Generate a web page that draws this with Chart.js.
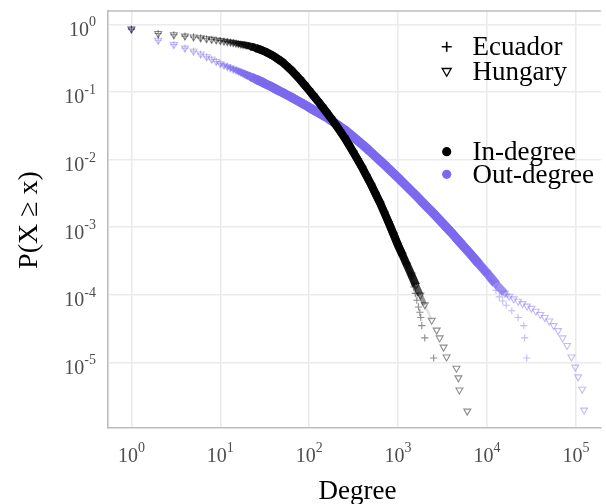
<!DOCTYPE html>
<html>
<head>
<meta charset="utf-8">
<script src="https://cdn.jsdelivr.net/npm/chart.js@4.4.1/dist/chart.umd.min.js"></script>
<style>
  html, body { margin: 0; padding: 0; background: #fff; }
  #wrap { width: 606px; height: 504px; }
</style>
</head>
<body>
<div id="wrap"><canvas id="degreeChart" width="606" height="504"></canvas></div>
<script>
// P(X >= x) against degree
const hungaryInDeg = [1, 2, 3, 4, 5, 6, 7, 8, 9, 10, 11, 12, 13, 14, 15, 16, 17, 18, 19, 20, 22, 25, 28, 32, 36, 40, 45, 50, 56, 63, 71, 79, 89, 100, 112, 126, 141, 158, 178, 200, 224, 251, 282, 316, 355, 398, 447, 501, 562, 631, 708, 794, 891, 1000, 1122, 1259, 1413, 1585, 1778, 1995, 2388, 2713, 2930, 3245, 3506, 4530, 4766, 4890, 6000];
const hungaryInP = [0.85, 0.73, 0.70, 0.67, 0.65, 0.63, 0.612, 0.598, 0.586, 0.575, 0.565, 0.555, 0.546, 0.536, 0.526, 0.518, 0.509, 0.502, 0.496, 0.49, 0.471, 0.448, 0.424, 0.395, 0.364, 0.337, 0.303, 0.276, 0.241, 0.209, 0.177, 0.152, 0.126, 0.105, 0.0875, 0.0724, 0.0598, 0.0492, 0.0398, 0.0322, 0.026, 0.0209, 0.0162, 0.0126, 0.00966, 0.00741, 0.00556, 0.00417, 0.00305, 0.00224, 0.00158, 0.00112, 0.000776, 0.000537, 0.000385, 0.000275, 0.000195, 0.000138, 0.000099, 0.000071, 0.000042, 0.00003, 0.000023, 0.0000168, 0.000012, 0.0000082, 0.0000059, 0.0000039, 0.0000019];

const ecuadorInDeg = [1, 2, 3, 4, 5, 6, 7, 8, 9, 10, 11, 12, 13, 14, 15, 16, 17, 18, 19, 20, 22, 25, 28, 32, 36, 40, 45, 50, 56, 63, 71, 79, 89, 100, 112, 126, 141, 158, 178, 200, 224, 251, 282, 316, 355, 398, 447, 501, 562, 631, 708, 794, 891, 1000, 1122, 1259, 1413, 1500, 1560, 1624, 1694, 1754, 1799, 1846, 1995, 2510];
const ecuadorInP = [0.85, 0.73, 0.70, 0.67, 0.65, 0.63, 0.612, 0.598, 0.586, 0.575, 0.565, 0.555, 0.546, 0.536, 0.526, 0.518, 0.509, 0.502, 0.496, 0.49, 0.471, 0.448, 0.424, 0.395, 0.364, 0.337, 0.303, 0.276, 0.241, 0.209, 0.177, 0.152, 0.126, 0.105, 0.0875, 0.0724, 0.0598, 0.0492, 0.0398, 0.0322, 0.026, 0.0209, 0.0162, 0.0126, 0.00966, 0.00741, 0.00556, 0.00417, 0.00305, 0.00224, 0.00158, 0.00112, 0.000776, 0.000537, 0.000385, 0.000275, 0.00019, 0.00013, 0.000105, 0.000083, 0.000066, 0.000055, 0.000046, 0.000035, 0.000023, 0.0000116];

const hungaryOutDeg = [1, 2, 3, 4, 5, 6, 7, 8, 9, 10, 11, 12, 13, 14, 15, 16, 17, 18, 19, 20, 22, 25, 28, 32, 36, 40, 45, 50, 56, 63, 71, 79, 89, 100, 112, 126, 141, 158, 178, 200, 224, 251, 282, 316, 355, 398, 447, 501, 562, 631, 708, 794, 891, 1000, 1259, 1585, 1995, 2512, 3162, 3981, 5012, 6310, 7943, 10000, 12590, 15850, 17780, 19950, 22390, 25120, 28180, 31620, 35480, 39810, 44670, 50120, 56230, 63100, 70790, 79430, 89130, 98300, 106000, 117600, 123600];
const hungaryOutP = [0.85, 0.58, 0.50, 0.445, 0.40, 0.363, 0.331, 0.305, 0.282, 0.261, 0.248, 0.237, 0.227, 0.218, 0.21, 0.203, 0.196, 0.189, 0.183, 0.178, 0.168, 0.155, 0.145, 0.132, 0.123, 0.1145, 0.105, 0.098, 0.0904, 0.0834, 0.0764, 0.0705, 0.0646, 0.0589, 0.0541, 0.0495, 0.0455, 0.0417, 0.0376, 0.0339, 0.0305, 0.0275, 0.0243, 0.0214, 0.0188, 0.0166, 0.0145, 0.0126, 0.011, 0.00955, 0.00828, 0.00716, 0.00621, 0.00537, 0.00398, 0.00295, 0.00216, 0.00158, 0.00115, 0.00083, 0.00059, 0.00042, 0.000295, 0.000209, 0.000145, 0.000105, 0.000095, 0.000087, 0.00008, 0.000074, 0.000068, 0.000063, 0.000057, 0.000051, 0.000046, 0.000041, 0.000035, 0.0000295, 0.000023, 0.0000178, 0.000012, 0.0000085, 0.0000061, 0.000004, 0.00000197];

const ecuadorOutDeg = [1, 2, 3, 4, 5, 6, 7, 8, 9, 10, 11, 12, 13, 14, 15, 16, 17, 18, 19, 20, 22, 25, 28, 32, 36, 40, 45, 50, 56, 63, 71, 79, 89, 100, 112, 126, 141, 158, 178, 200, 224, 251, 282, 316, 355, 398, 447, 501, 562, 631, 708, 794, 891, 1000, 1259, 1585, 1995, 2512, 3162, 3981, 5012, 6310, 7943, 10000, 11200, 12600, 13750, 15000, 16430, 19000, 22370, 25900, 26500, 28000];
const ecuadorOutP = [0.85, 0.58, 0.50, 0.445, 0.40, 0.363, 0.331, 0.305, 0.282, 0.261, 0.248, 0.237, 0.227, 0.218, 0.21, 0.203, 0.196, 0.189, 0.183, 0.178, 0.168, 0.155, 0.145, 0.132, 0.123, 0.1145, 0.105, 0.098, 0.0904, 0.0834, 0.0764, 0.0705, 0.0646, 0.0589, 0.0541, 0.0495, 0.0455, 0.0417, 0.0376, 0.0339, 0.0305, 0.0275, 0.0243, 0.0214, 0.0188, 0.0166, 0.0145, 0.0126, 0.011, 0.00955, 0.00828, 0.00716, 0.00621, 0.00537, 0.00398, 0.00295, 0.00216, 0.00158, 0.00115, 0.00083, 0.00059, 0.00042, 0.000295, 0.000205, 0.00016, 0.000116, 0.000093, 0.000081, 0.00007, 0.000058, 0.000046, 0.000035, 0.000023, 0.0000116];

const xTicks = [1, 10, 100, 1000, 10000, 100000];
const xTickExp = ["0", "1", "2", "3", "4", "5"];
const yTicks = [1, 0.1, 0.01, 0.001, 0.0001, 0.00001];
const yTickExp = ["0", "-1", "-2", "-3", "-4", "-5"];

const countryLegend = ["Ecuador", "Hungary"];
const directionLegend = ["In-degree", "Out-degree"];

const SERIF = '"Liberation Serif", "Times New Roman", serif';
const INK = "0,0,0";
const PURPLE = "123,104,238";

// how strongly the overlapping markers merge into a solid band at degree x
function bandStrength(x, from, to) {
  const lx = Math.log10(x);
  const up = (lx - Math.log10(from)) / 0.45;
  const down = (Math.log10(to) - lx) / 0.18;
  return Math.max(0, Math.min(1, up, down));
}

function series(degs, probs, rgb, marker, lineFrom, lineTo, width) {
  const mid = (c) => Math.sqrt(c.p0.parsed.x * c.p1.parsed.x);
  return {
    data: degs.map((d, i) => ({ x: d, y: probs[i] })),
    showLine: true,
    borderColor: "rgba(" + rgb + ",0.85)",
    borderWidth: width,
    borderCapStyle: "butt",
    borderJoinStyle: "round",
    segment: {
      borderColor: (c) => {
        const t = bandStrength(mid(c), lineFrom, lineTo);
        return "rgba(" + rgb + "," + (0.88 * t).toFixed(3) + ")";
      },
      borderWidth: (c) => {
        const t = bandStrength(mid(c), lineFrom, lineTo);
        return 2 + (width - 2) * t;
      },
    },
    pointStyle: marker === "plus" ? "cross" : "triangle",
    rotation: marker === "plus" ? 0 : 180,
    pointRadius: marker === "plus" ? 3.6 : 4,
    pointBorderWidth: 1.1,
    pointBorderColor: "rgba(" + rgb + ",0.45)",
    pointBackgroundColor: "rgba(0,0,0,0)",
  };
}

function drawPower(ctx, x, baseline, exp, align) {
  ctx.font = "20px " + SERIF;
  const wBase = ctx.measureText("10").width;
  ctx.font = "14px " + SERIF;
  const wExp = ctx.measureText(exp).width;
  const total = wBase + wExp;
  const start = align === "right" ? x - total : x - total / 2;
  ctx.textAlign = "left";
  ctx.font = "20px " + SERIF;
  ctx.fillText("10", start, baseline);
  ctx.font = "14px " + SERIF;
  ctx.fillText(exp, start + wBase, baseline - 9.5);
}

const decorations = {
  id: "decorations",
  beforeDatasetsDraw(chart) {
    const { ctx, chartArea: a } = chart;
    ctx.save();
    ctx.strokeStyle = "#bdbdbd";
    ctx.lineWidth = 1.6;
    ctx.beginPath();
    ctx.moveTo(a.left, a.top);
    ctx.lineTo(a.right, a.top);
    ctx.stroke();
    ctx.restore();
  },
  afterDraw(chart) {
    const { ctx, chartArea: a, scales } = chart;
    ctx.save();
    ctx.fillStyle = "#4d4d4d";
    ctx.textBaseline = "alphabetic";
    xTicks.forEach((v, i) => {
      drawPower(ctx, scales.x.getPixelForValue(v), a.bottom + 33.5, xTickExp[i], "center");
    });
    yTicks.forEach((v, i) => {
      drawPower(ctx, a.left - 12, scales.y.getPixelForValue(v) + 11.5, yTickExp[i], "right");
    });

    // axis titles
    ctx.fillStyle = "#000";
    ctx.font = "27px " + SERIF;
    ctx.textAlign = "center";
    ctx.fillText("Degree", (a.left + a.right) / 2 + 3, 499);
    ctx.save();
    ctx.translate(37, 220);
    ctx.rotate(-Math.PI / 2);
    ctx.font = "28px " + SERIF;
    ctx.fillText("P(X \u2265 x)", 0, 0);
    ctx.restore();

    // legend
    const mx = 446.7;
    const tx = 472.5;
    ctx.textAlign = "left";
    ctx.font = "27px " + SERIF;
    ctx.strokeStyle = "#000";
    ctx.lineWidth = 1.6;
    ctx.beginPath();
    ctx.moveTo(mx - 5, 46.7);
    ctx.lineTo(mx + 5, 46.7);
    ctx.moveTo(mx, 41.7);
    ctx.lineTo(mx, 51.7);
    ctx.stroke();
    ctx.lineWidth = 1.3;
    ctx.beginPath();
    ctx.moveTo(mx - 4.5, 68.5);
    ctx.lineTo(mx + 4.5, 68.5);
    ctx.lineTo(mx, 76.3);
    ctx.closePath();
    ctx.stroke();
    ctx.fillText(countryLegend[0], tx, 55.2);
    ctx.fillText(countryLegend[1], tx, 80.4);

    ctx.fillStyle = "#000";
    ctx.beginPath();
    ctx.arc(mx, 151.7, 4.6, 0, Math.PI * 2);
    ctx.fill();
    ctx.fillStyle = "rgb(" + PURPLE + ")";
    ctx.beginPath();
    ctx.arc(mx, 174.3, 4.6, 0, Math.PI * 2);
    ctx.fill();
    ctx.fillStyle = "#000";
    ctx.fillText(directionLegend[0], tx, 159.6);
    ctx.fillText(directionLegend[1], tx, 183.4);
    ctx.restore();
  },
};

new Chart(document.getElementById("degreeChart"), {
  type: "scatter",
  data: {
    datasets: [
      series(ecuadorInDeg, ecuadorInP, INK, "plus", 9, 1650, 8),
      series(hungaryInDeg, hungaryInP, INK, "triangle", 9, 2300, 8),
      series(ecuadorOutDeg, ecuadorOutP, PURPLE, "plus", 9, 12000, 9),
      series(hungaryOutDeg, hungaryOutP, PURPLE, "triangle", 9, 20000, 9),
    ],
  },
  options: {
    responsive: false,
    animation: false,
    devicePixelRatio: 1,
    layout: { padding: { left: 108, top: 11, right: 0, bottom: 76 } },
    plugins: { legend: { display: false }, tooltip: { enabled: false } },
    scales: {
      x: {
        type: "logarithmic",
        min: 0.545,
        max: 191000,
        bounds: "data",
        afterBuildTicks: (s) => { s.ticks = xTicks.map((v) => ({ value: v })); },
        ticks: { display: false },
        grid: { color: "#ebebeb", lineWidth: 1.6, drawTicks: false },
        border: { display: true, color: "#bdbdbd", width: 1.6 },
      },
      y: {
        type: "logarithmic",
        min: 1.07e-6,
        max: 1.574,
        bounds: "data",
        afterBuildTicks: (s) => { s.ticks = yTicks.map((v) => ({ value: v })); },
        ticks: { display: false },
        grid: { color: "#ebebeb", lineWidth: 1.6, drawTicks: false },
        border: { display: true, color: "#bdbdbd", width: 1.6 },
      },
    },
  },
  plugins: [decorations],
});
</script>
</body>
</html>
